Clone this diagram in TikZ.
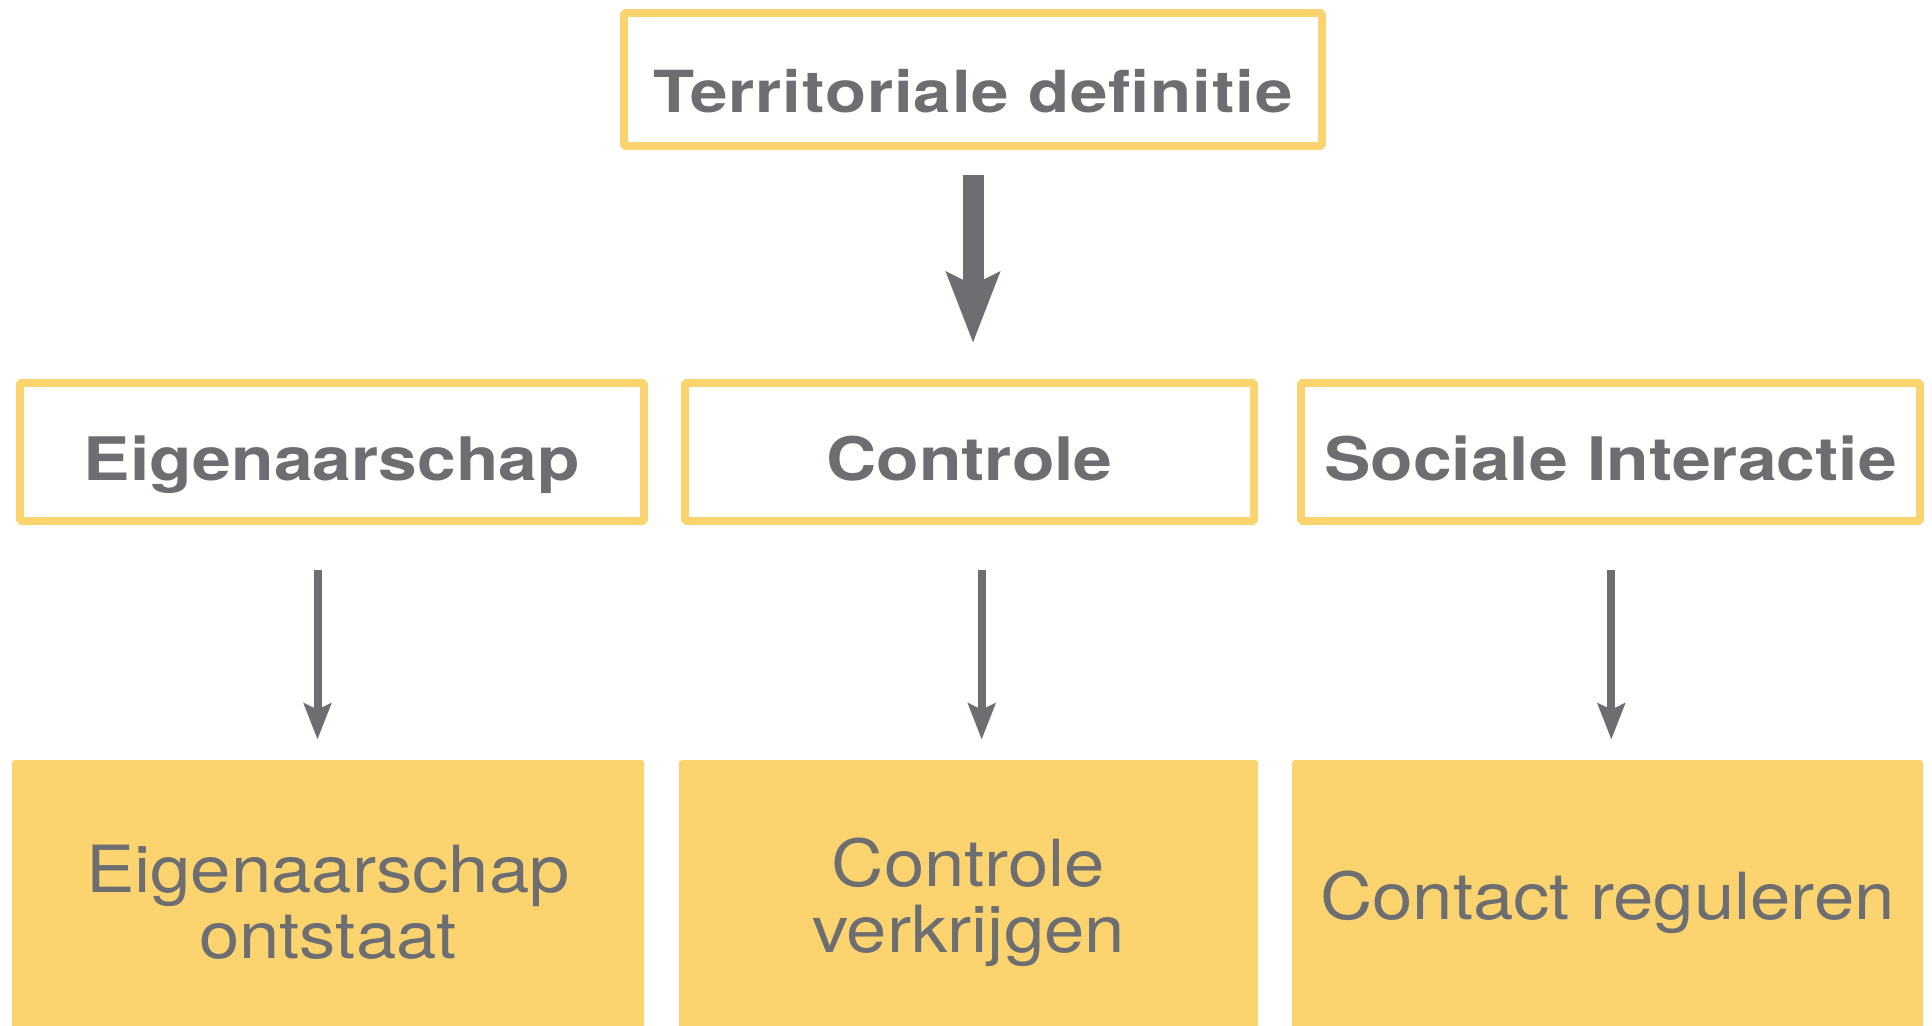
\documentclass[tikz,border=0pt]{standalone}
\usepackage{fontspec}
\setmainfont{TeX Gyre Heros}
\newfontfamily\headfont{TeX Gyre Heros}[FakeStretch=1.16]
\newfontfamily\titlefont{TeX Gyre Heros}[FakeStretch=1.16, LetterSpace=1.5]
\newfontfamily\bodyfont{TeX Gyre Heros}[FakeStretch=1.115]
\usetikzlibrary{arrows.meta}
\definecolor{ylw}{HTML}{FBD46F}
\definecolor{txtgray}{HTML}{6D6E71}
\begin{document}
\begin{tikzpicture}[x=0.5pt,y=-0.5pt,
  outlinebox/.style={draw=ylw, line width=4pt, line join=bevel, fill=white, inner sep=0pt, text=txtgray},
  topfont/.style={font=\titlefont\bfseries\fontsize{29}{33}\selectfont, text height=33pt, text depth=0pt},
  midfont/.style={font=\headfont\bfseries\fontsize{30}{33}\selectfont, text height=28.5pt, text depth=0pt},
  fillbox/.style={fill=ylw, inner sep=0pt, rounded corners=1.5pt, text=txtgray, align=center,
    minimum height=142.5pt, font=\bodyfont\fontsize{32.5}{33}\selectfont},
  bigarrow/.style={draw=txtgray, line width=10.5pt, -{Stealth[length=35pt,width=26pt,inset=6pt]}},
  smallarrow/.style={draw=txtgray, line width=4pt, -{Stealth[length=18pt,width=13.5pt,inset=3pt]}}
]
\path[use as bounding box, fill=white] (0,0) rectangle (1932,1025);

% top
\node[outlinebox, topfont, minimum width=349pt, minimum height=66.7pt] (top) at (973,79.3) {Territoriale definitie};

% middle row
\node[outlinebox, midfont, minimum width=312pt, minimum height=69pt] (m1) at (332,452) {Eigenaarschap};
\node[outlinebox, midfont, minimum width=284.5pt, minimum height=69pt] (m2) at (969.5,452) {Controle};
\node[outlinebox, midfont, minimum width=309.5pt, minimum height=69pt] (m3) at (1610.5,452) {Sociale Interactie};

% bottom row
\node[fillbox, minimum width=316pt] (b1) at (328,902.5) {Eigenaarschap\\ontstaat};
\node[fillbox, minimum width=289.5pt] (b2) at (968.5,902.5) {Controle\\verkrijgen};
\node[fillbox, minimum width=315.5pt] (b3) at (1607.5,902.5) {Contact reguleren};

% arrows
\draw[bigarrow, shorten <=12.5pt, shorten >=18pt] (top.south) -- (top.south |- m2.north);
\draw[smallarrow, shorten <=22.5pt, shorten >=10pt] ([xshift=-7.25pt]m1.south) -- ([xshift=-7.25pt]m1.south |- b1.north);
\draw[smallarrow, shorten <=22.5pt, shorten >=10pt] ([xshift=6.1pt]m2.south) -- ([xshift=6.1pt]m2.south |- b2.north);
\draw[smallarrow, shorten <=22.5pt, shorten >=10pt] ([xshift=0.4pt]m3.south) -- ([xshift=0.4pt]m3.south |- b3.north);
\end{tikzpicture}
\end{document}
